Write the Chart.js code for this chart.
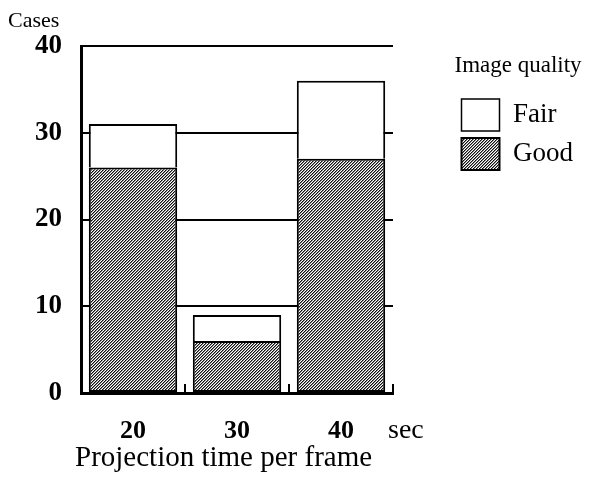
<!DOCTYPE html>
<html>
<head>
<meta charset="utf-8">
<script src="https://cdn.jsdelivr.net/npm/chart.js@4"></script>
<style>
  html, body { margin: 0; padding: 0; background: #fff; }
  canvas { display: block; }
</style>
</head>
<body>
<canvas id="casesChart" width="591" height="479"></canvas>
<script>
const categories = ['20', '30', '40'];
const goodCases = [26, 6, 27];
const fairCases = [5, 3, 9];
const yTicks = [0, 10, 20, 30, 40];
const yTitle = 'Cases';
const xTitle = 'Projection time per frame';
const unitLabel = 'sec';
const legendTitle = 'Image quality';

const canvas = document.getElementById('casesChart');
const ctx = canvas.getContext('2d');
const serif = '"Liberation Serif", "Times New Roman", serif';

// diagonal hatch for the "Good" bars
function makeHatch() {
  const c = document.createElement('canvas');
  c.width = 3;
  c.height = 3;
  const g = c.getContext('2d');
  g.fillStyle = '#fff';
  g.fillRect(0, 0, 3, 3);
  for (let y = 0; y < 3; y++) {
    g.fillStyle = '#111';
    g.fillRect(2 - y, y, 1, 1);
    g.fillStyle = '#888';
    g.fillRect((3 - y) % 3, y, 1, 1);
  }
  return ctx.createPattern(c, 'repeat');
}
const hatch = makeHatch();

// extra labels that are not part of an axis
const annotate = {
  id: 'annotate',
  afterDraw(chart) {
    const { ctx, chartArea } = chart;
    ctx.save();
    ctx.fillStyle = '#000';
    ctx.textAlign = 'left';
    ctx.textBaseline = 'alphabetic';
    ctx.font = '22px ' + serif;
    ctx.fillText(yTitle, 8, 27);
    ctx.font = '28px ' + serif;
    ctx.fillText(unitLabel, chartArea.right - 5, 438);
    ctx.font = '29px ' + serif;
    ctx.fillText(xTitle, 75, 466);
    ctx.restore();
  }
};

new Chart(canvas, {
  type: 'bar',
  data: {
    labels: categories,
    datasets: [
      {
        label: 'Good',
        data: goodCases,
        backgroundColor: hatch,
        borderColor: '#000',
        borderWidth: 2,
        borderSkipped: false
      },
      {
        label: 'Fair',
        data: fairCases,
        backgroundColor: '#fff',
        borderColor: '#000',
        borderWidth: { top: 2, left: 2, right: 2, bottom: 0 },
        borderSkipped: false
      }
    ]
  },
  options: {
    responsive: false,
    animation: false,
    datasets: {
      bar: { barPercentage: 0.85, categoryPercentage: 1 }
    },
    layout: { padding: { left: 0, top: 46, right: 8, bottom: 0 } },
    plugins: {
      tooltip: { enabled: false },
      legend: {
        position: 'right',
        align: 'start',
        reverse: true,
        maxWidth: 160,
        title: {
          display: true,
          text: legendTitle,
          position: 'start',
          color: '#000',
          font: { family: serif, size: 23 },
          padding: { top: 8, bottom: 10.4 }
        },
        labels: {
          color: '#000',
          font: { family: serif, size: 27 },
          boxWidth: 38,
          boxHeight: 32,
          padding: 7
        }
      }
    },
    scales: {
      x: {
        stacked: true,
        offset: true,
        grid: {
          offset: true,
          drawOnChartArea: false,
          drawTicks: true,
          tickLength: -9,
          color: '#000',
          lineWidth: 2
        },
        border: { display: true, color: '#000', width: 3 },
        ticks: {
          color: '#000',
          padding: 32,
          font: { family: serif, size: 26, weight: 'bold' }
        },
        afterFit(scale) { scale.height = 86; }
      },
      y: {
        stacked: true,
        min: yTicks[0],
        max: yTicks[yTicks.length - 1],
        afterBuildTicks(scale) { scale.ticks = yTicks.map(v => ({ value: v })); },
        grid: { color: '#000', lineWidth: 2, drawTicks: false },
        border: { display: true, color: '#000', width: 3 },
        ticks: {
          color: '#000',
          padding: 19,
          font: { family: serif, size: 27, weight: 'bold' }
        },
        afterFit(scale) { scale.width = 81; }
      },
      // empty spacer between plot and legend
      spacer: {
        type: 'linear',
        position: 'right',
        display: true,
        grid: { display: false },
        border: { display: false },
        ticks: { display: false },
        afterFit(scale) { scale.width = 61.5; }
      }
    }
  },
  plugins: [annotate]
});
</script>
</body>
</html>
